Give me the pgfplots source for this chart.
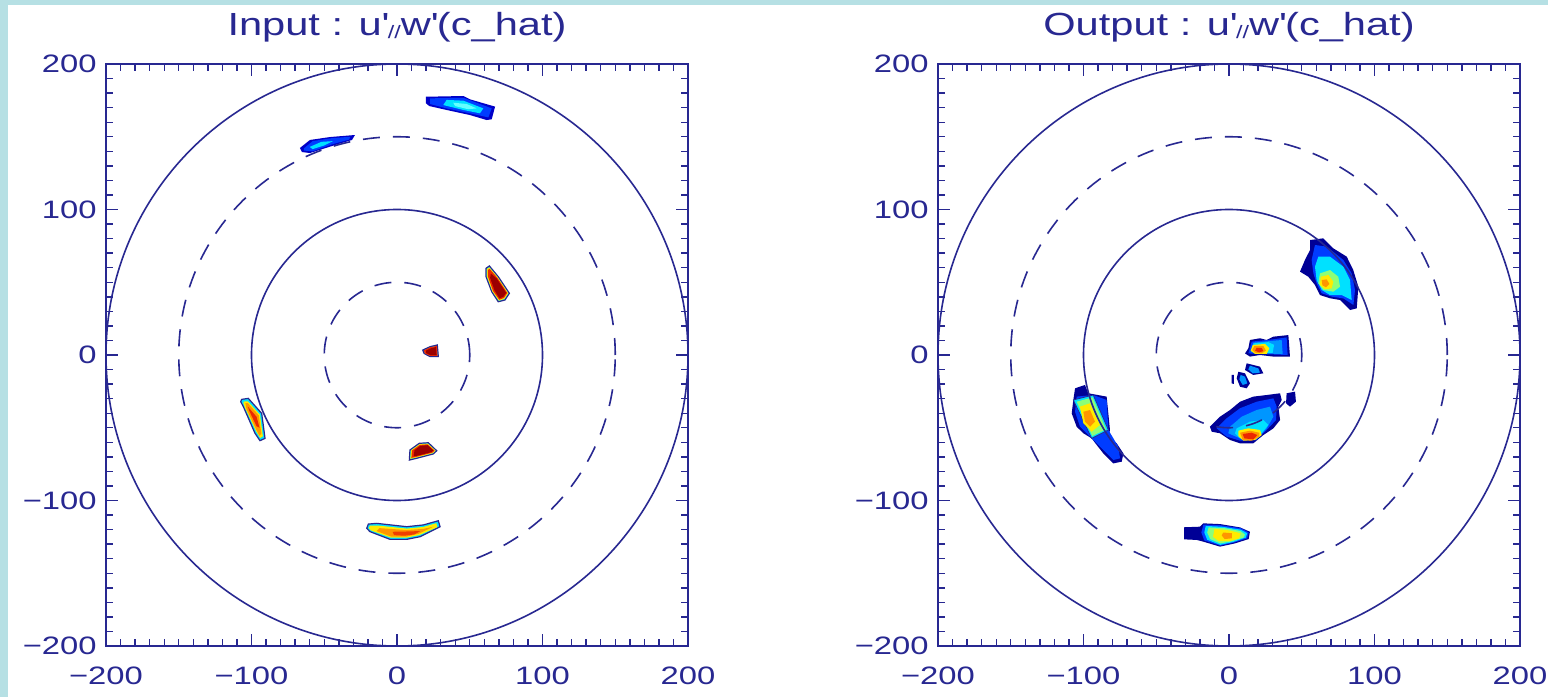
\documentclass[border=0pt]{standalone}
\usepackage{pgfplots}
\pgfplotsset{compat=1.18}
\usepackage{fontspec}
\setmainfont{Liberation Sans}
\newfontfamily\hf{Liberation Sans}[FakeStretch=1.3]
\definecolor{navyline}{RGB}{40,40,145}
\definecolor{bgblue}{RGB}{182,224,228}
\definecolor{j0}{RGB}{0,0,150}
\definecolor{j0b}{RGB}{0,0,200}
\definecolor{j1}{RGB}{0,60,255}
\definecolor{j2}{RGB}{0,150,255}
\definecolor{j3}{RGB}{0,225,255}
\definecolor{j3b}{RGB}{100,255,255}
\definecolor{j4}{RGB}{140,255,120}
\definecolor{j5}{RGB}{255,235,0}
\definecolor{j6}{RGB}{255,150,0}
\definecolor{j7}{RGB}{235,40,0}
\definecolor{j8}{RGB}{155,0,0}
\pgfplotsset{
  common/.style={
    anchor=south west, scale only axis, width=291pt, height=291pt,
    xmin=-200, xmax=200, ymin=-200, ymax=200,
    xtick={-200,-100,0,100,200}, ytick={-200,-100,0,100,200},
    xticklabels={−200,−100,0,100,200}, yticklabels={−200,−100,0,100,200},
    minor x tick num=9, minor y tick num=9,
    tick align=inside, major tick length=6pt, minor tick length=3.5pt,
    axis line style={navyline, line width=1.2pt},
    major tick style={navyline, line width=0.7pt},
    minor tick style={navyline, line width=0.7pt},
    xticklabel style={font=\hf\fontsize{12.6}{14}\selectfont, text=navyline, inner sep=0pt, anchor=north, yshift=-10.5pt},
    yticklabel style={font=\hf\fontsize{12.6}{14}\selectfont, text=navyline, inner sep=0pt, anchor=east, xshift=-4.5pt},
    title style={at={(0.5,1)}, anchor=base, yshift=8.5pt, inner sep=0pt, font=\hf\fontsize{16}{19}\selectfont, text=navyline},
    axis on top,
  },
  bl/.style={fill=#1, draw=none, forget plot},
  ol/.style={fill=#1, draw=navyline, line width=0.6pt, forget plot},
}
\newcommand{\circles}{%
  \draw[navyline, line width=0.8pt] (axis cs:0,0) circle [radius=200];
  \draw[navyline, line width=0.8pt] (axis cs:0,0) circle [radius=100];
  \draw[navyline, line width=0.8pt, dash pattern=on 8.5pt off 6.5pt] (axis cs:0,0) circle [radius=150];
  \draw[navyline, line width=0.8pt, dash pattern=on 8.5pt off 6.5pt] (axis cs:0,0) circle [radius=50];
}
\begin{document}
\begin{tikzpicture}
\path[use as bounding box] (0,0) rectangle (774pt,348.5pt);
\fill[bgblue] (0,0) rectangle (774pt,348.5pt);
\fill[white] (4pt,0) rectangle (774pt,346pt);

% ---------------- LEFT PANEL ----------------
\begin{axis}[common, at={(53pt,25.5pt)},
  title={Input : u\textquotesingle{\fontsize{9}{9}\selectfont\raisebox{-0.35ex}{//}}w\textquotesingle(c\_hat)}]
% top blob
\addplot[bl=j0b] coordinates {(19.9,177.5)(45.6,178.0)(50.2,175.7)(67.4,170.7)(65.1,162.0)(61.6,161.5)(50.2,164.9)(34.1,168.4)(22.2,171.1)(19.9,173.0)} -- cycle;
\addplot[bl=j1] coordinates {(22.7,176.4)(45.6,176.8)(65.1,169.5)(62.8,163.3)(50.2,166.1)(34.1,169.5)(22.7,172.5)} -- cycle;
\addplot[bl=j3] coordinates {(34.1,175.3)(45.6,174.8)(59.3,169.5)(57.0,166.1)(45.6,168.4)(31.8,171.8)} -- cycle;
\addplot[bl=j3b] coordinates {(38.7,173.4)(47.9,172.5)(54.8,169.5)(49.0,168.9)(39.9,171.1)} -- cycle;
% upper-left blob
\addplot[bl=j0b] coordinates {(-66.7,142.3)(-59.8,147.8)(-46.0,149.8)(-28.9,151.2)(-30.9,147.8)(-42.6,144.3)(-59.8,138.8)(-65.3,139.5)} -- cycle;
\addplot[bl=j1] coordinates {(-64,142)(-58,147)(-45,149)(-32,150)(-33,148)(-44,145)(-58,140)(-64,140.5)} -- cycle;
\addplot[bl=j3] coordinates {(-60,143)(-52,146.5)(-44,147)(-50,144)(-58,141.5)} -- cycle;
% right red blob
\addplot[ol=j3] coordinates {(61.2,59.6)(63.5,61.2)(69.6,53.8)(77.2,42.4)(74.2,37.8)(69.6,36.6)(65.1,43.5)(61.2,53.8)} -- cycle;
\addplot[bl=j5] coordinates {(61.8,59.2)(63.5,60.2)(69.2,53.5)(76.5,42.5)(73.8,38.5)(70,37.3)(65.5,43.8)(61.8,54)} -- cycle;
\addplot[bl=j7] coordinates {(62.5,58.5)(63.7,59.2)(69,53)(75.8,42.6)(73.5,39.2)(70.3,38)(66,44)(62.5,54)} -- cycle;
\addplot[bl=j8] coordinates {(64.5,56)(68.5,52.5)(75,42.8)(73,40)(70.5,39)(67,44.5)(64,53)} -- cycle;
% centre blob
\addplot[ol=j3] coordinates {(17.7,3.4)(22.7,5.7)(27.7,6.9)(28.4,-1.1)(22.7,-1.1)(18.6,1.1)} -- cycle;
\addplot[bl=j7] coordinates {(18.5,3.2)(22.7,5.3)(27.4,6.3)(27.9,-0.6)(22.7,-0.6)(19,1.2)} -- cycle;
\addplot[bl=j8] coordinates {(20,3)(23,4.5)(26.8,5.5)(27.2,0)(22.7,0)(20,1.4)} -- cycle;
% left blob
\addplot[ol=j3] coordinates {(-106.8,-30.5)(-102.2,-29.8)(-93.0,-40.1)(-90.7,-57.3)(-94.2,-58.9)(-97.6,-53.8)(-105.6,-35.5)(-107.4,-32.1)} -- cycle;
\addplot[bl=j5] coordinates {(-105.3,-32)(-102.6,-31.8)(-94.2,-41)(-92.2,-55.8)(-94.0,-57)(-96.8,-52.5)(-104.6,-36)(-105.6,-33)} -- cycle;
\addplot[bl=j6] coordinates {(-104.2,-33)(-102.6,-33)(-95,-41.5)(-93.2,-54)(-94.5,-55.5)(-96.6,-51.5)(-103.5,-37)} -- cycle;
\addplot[bl=j7] coordinates {(-102.5,-35.5)(-96.5,-42.5)(-94.5,-50)(-96.5,-49)(-101.5,-38.5)} -- cycle;
% small bottom red blob
\addplot[ol=j3] coordinates {(8.9,-65.3)(15.3,-60.7)(21.5,-60.3)(27.3,-65.8)(24.9,-68.0)(13.5,-71.0)(8.5,-72.2)} -- cycle;
\addplot[bl=j5] coordinates {(9.6,-65.5)(15.5,-61.3)(21.2,-60.9)(26.5,-65.7)(24.6,-67.5)(13.5,-70.4)(9.2,-71.4)} -- cycle;
\addplot[bl=j7] coordinates {(10.3,-65.6)(15.7,-61.8)(21,-61.4)(25.8,-65.7)(24.3,-67.1)(13.6,-69.9)(9.9,-70.7)} -- cycle;
\addplot[bl=j8] coordinates {(12,-65.5)(16,-62.5)(21,-62)(25,-65.6)(23.5,-66.8)(14,-69.2)(11.5,-69.5)} -- cycle;
% bottom band
\addplot[ol=j3] coordinates {(-19.7,-116.2)(-14.0,-115.7)(6.7,-118.0)(18.1,-116.8)(28.4,-113.9)(29.6,-118.0)(15.8,-124.9)(6.7,-126.7)(-4.8,-126.7)(-18.6,-121.4)(-20.8,-119.1)} -- cycle;
\addplot[bl=j5] coordinates {(-18.5,-117.3)(-13.5,-117.2)(6.7,-119.3)(18,-118.2)(27,-115.6)(27.8,-118.3)(15.3,-123.8)(6.7,-125.5)(-4.4,-125.5)(-17.8,-120.6)(-19.5,-119)} -- cycle;
\addplot[bl=j6] coordinates {(-12,-119)(6.7,-120.3)(18,-119.5)(25,-118)(15,-122.8)(6.7,-124.8)(-4,-124.8)(-14,-121)} -- cycle;
\addplot[bl=j7!80!j6] coordinates {(-3,-121.5)(6.7,-121.3)(16,-121)(12,-123.3)(5,-124.2)(-2,-123.8)} -- cycle;
\circles
\end{axis}

% ---------------- RIGHT PANEL ----------------
\begin{axis}[common, at={(469pt,25.5pt)},
  title={Output : u\textquotesingle{\fontsize{9}{9}\selectfont\raisebox{-0.35ex}{//}}w\textquotesingle(c\_hat)}]
% A: top-right blob
\addplot[bl=j0] coordinates {(55.7,79.0)(64.8,80.2)(71.7,73.3)(80.9,67.6)(85.4,58.4)(88.9,46.9)(87.8,32.1)(83.2,30.9)(76.3,37.8)(69.4,39.0)(62.5,41.2)(59.1,48.1)(54.5,53.8)(48.8,57.3)(52.2,65.3)(55.7,72.2)} -- cycle;
\addplot[bl=j1] coordinates {(59.1,75.6)(67.1,74.5)(78.6,65.3)(84.3,56.1)(86.6,44.7)(85.5,34.4)(78.6,38.9)(70.6,40.1)(63.7,42.4)(60.2,49.3)(58.0,56.1)(56.8,65.3)} -- cycle;
\addplot[bl=j3] coordinates {(61.4,67.6)(69.4,67.6)(78.6,60.7)(83.2,51.5)(84.3,37.8)(77.4,41.2)(69.4,41.2)(63.7,44.7)(60.2,51.5)(59.1,60.7)} -- cycle;
\addplot[bl=j4] coordinates {(62.5,56.1)(69.4,58.4)(75.1,53.8)(76.3,46.9)(71.7,43.5)(64.8,44.7)(61.4,49.3)} -- cycle;
\addplot[bl=j5] coordinates {(63.0,53.8)(68.3,55.0)(71.7,50.4)(70.6,45.8)(66.0,45.2)(62.5,48.1)} -- cycle;
\addplot[bl=j6] coordinates {(63.7,51.5)(67.1,52.0)(69.0,48.8)(66.7,46.5)(64.2,47.9)} -- cycle;
% B: centre blob
\addplot[bl=j0] coordinates {(14.4,10.3)(21.3,11.5)(25.9,10.3)(30.5,12.6)(40.8,13.7)(41.9,-1.1)(30.5,-1.1)(21.3,0)(14.4,-1.1)(11.0,1.1)(13.3,4.6)} -- cycle;
\addplot[bl=j1] coordinates {(15.6,9.2)(30.5,10.8)(39.6,12.1)(40.3,0)(21.3,0.7)(13.3,1.1)} -- cycle;
\addplot[bl=j2] coordinates {(16.7,8.5)(30.5,9.8)(36.2,10.3)(36.9,0.7)(21.3,1.1)(14.9,2.1)} -- cycle;
\addplot[bl=j3] coordinates {(17,8)(27,8.8)(31,7)(30,1.5)(20,1.3)(15.5,2.5)} -- cycle;
\addplot[bl=j5] coordinates {(16.3,6.9)(24.7,7.6)(27.7,4.6)(25.9,0.7)(17.9,0.7)(14.9,3.0)} -- cycle;
\addplot[bl=j6] coordinates {(17.4,6.2)(23.6,6.2)(25.4,3.0)(22.5,1.1)(17.9,1.6)(16.0,3.4)} -- cycle;
\addplot[bl=j7] coordinates {(19.0,5.0)(22.5,4.8)(23.6,2.7)(20.8,1.8)(17.9,3.0)} -- cycle;
% C: small blobs
\addplot[bl=j0] coordinates {(12.1,-5.7)(21.3,-8.0)(23.6,-12.6)(16.7,-13.7)(11.0,-10.3)} -- cycle;
\addplot[bl=j2] coordinates {(14.4,-7.3)(20.2,-9.2)(21.3,-12.1)(16.3,-12.6)(13.3,-9.9)} -- cycle;
\addplot[bl=j0] coordinates {(6.4,-11.5)(11.0,-12.6)(14.4,-19.5)(12.1,-22.9)(7.6,-21.8)(5.3,-16.0)} -- cycle;
\addplot[bl=j2] coordinates {(8.0,-13.7)(11.0,-14.9)(12.6,-19.5)(9.4,-20.6)(7.1,-16.7)} -- cycle;
\addplot[bl=j0] coordinates {(1.8,-13.7)(3.4,-13.7)(3.4,-19.9)(1.8,-19.5)} -- cycle;
% D: bottom cluster
\addplot[bl=j0] coordinates {(-13.1,-49.3)(-6.2,-42.4)(0.7,-37.8)(7.6,-32.1)(16.7,-28.6)(25.9,-27.5)(35.1,-26.3)(36.2,-30.9)(33.9,-35.5)(35.1,-44.7)(30.5,-50.4)(23.6,-55.0)(16.7,-60.7)(7.6,-60.7)(0.7,-58.4)(-6.2,-53.8)(-11.9,-52.7)} -- cycle;
\addplot[bl=j0] coordinates {(39.6,-26.3)(45.4,-25.2)(46.0,-32.1)(41.9,-35.5)(39.2,-33.2)} -- cycle;
\addplot[bl=j1] coordinates {(-8.5,-50.4)(-1.6,-43.5)(7.6,-36.6)(19.0,-32.1)(30.5,-29.8)(32.8,-35.5)(32.3,-44.7)(25.9,-51.5)(19.0,-58.4)(7.6,-58.9)(-1.6,-56.1)} -- cycle;
\addplot[bl=j2] coordinates {(0.7,-49.3)(8.7,-42.4)(19.0,-37.8)(28.2,-35.5)(30.5,-42.4)(25.9,-50.4)(19.0,-57.3)(7.6,-57.3)(-0.5,-53.8)} -- cycle;
\addplot[bl=j3] coordinates {(5.3,-50.4)(14.4,-45.8)(23.6,-44.7)(27.0,-48.1)(22.5,-53.8)(16.7,-57.3)(7.6,-57.3)(4.1,-53.8)} -- cycle;
\addplot[bl=j5] coordinates {(6.4,-52.0)(13.3,-50.4)(21.3,-51.5)(22.5,-55.0)(17.9,-58.4)(9.8,-58.9)(6.4,-55.7)} -- cycle;
\addplot[bl=j6] coordinates {(7.6,-53.4)(14.4,-52.0)(20.8,-53.4)(20.8,-56.1)(15.6,-58.9)(9.4,-58.4)} -- cycle;
\addplot[bl=j7] coordinates {(9.4,-54.3)(15.6,-53.4)(19.5,-55.0)(16.7,-58.0)(10.5,-57.3)} -- cycle;
% E: left blob
\addplot[bl=j0] coordinates {(-105.8,-22.9)(-99.0,-20.6)(-96.7,-26.3)(-84.1,-28.6)(-81.8,-51.5)(-82.9,-56.1)(-77.2,-60.7)(-72.6,-67.6)(-73.7,-73.3)(-79.5,-74.5)(-86.4,-67.6)(-90.9,-61.9)(-94.4,-57.3)(-100.1,-53.8)(-104.7,-49.3)(-108.1,-40.1)(-107.0,-30.9)} -- cycle;
\addplot[bl=j1] coordinates {(-104.7,-28.6)(-93.3,-27.5)(-84.1,-30.9)(-82.9,-51.5)(-76.1,-63.0)(-74.9,-71.0)(-79.5,-72.2)(-88.7,-63.0)(-94.4,-57.3)(-102.4,-49.3)(-105.8,-39.0)} -- cycle;
\addplot[bl=j3, draw=navyline, line width=0.4pt] coordinates {(-107.0,-30.9)(-93.3,-27.5)(-82.9,-51.5)(-94.4,-57.3)} -- cycle;
\addplot[bl=j4] coordinates {(-104.7,-32.1)(-93.7,-29.1)(-84.5,-51.1)(-94.0,-55.7)} -- cycle;
\addplot[bl=j5] coordinates {(-102.4,-35.5)(-95.5,-33.2)(-88.7,-48.1)(-94.4,-52.7)(-100.1,-46.9)} -- cycle;
\addplot[bl=j6] coordinates {(-100.1,-39.0)(-95.5,-37.8)(-92.1,-45.8)(-95.5,-49.3)(-99.0,-45.8)} -- cycle;
% F: bottom blob
\addplot[bl=j0] coordinates {(-30.9,-118.4)(-19.9,-118.0)(-17.6,-115.7)(-6.2,-116.2)(7.6,-118.5)(14.4,-121.5)(13.5,-126.5)(4,-129.5)(-6.2,-131.7)(-17.6,-128.3)(-22.2,-127.1)(-30.9,-126.7)} -- cycle;
\addplot[bl=j1] coordinates {(-17.6,-116.5)(-6,-117)(8,-119)(13.5,-122)(12.5,-126)(3,-129)(-6,-131)(-17,-127.5)(-19,-122)} -- cycle;
\addplot[bl=j3] coordinates {(-16,-117.5)(-5,-118)(8,-120)(12.5,-122.5)(11.5,-125.5)(3,-128.5)(-6,-130.5)(-15,-127)(-17,-122)} -- cycle;
\addplot[bl=j4] coordinates {(-14,-118.5)(-3,-119)(8,-121)(11,-123.5)(10,-125.5)(2,-128)(-6,-129.5)(-13,-126.5)(-15,-122)} -- cycle;
\addplot[bl=j5] coordinates {(-10,-119.5)(0,-120.5)(8,-122.5)(7,-126)(0,-128)(-7,-128)(-11,-125)} -- cycle;
\addplot[bl=j6] coordinates {(-4,-122)(2,-122.5)(2,-126)(-3,-126.5)(-5,-124)} -- cycle;
\circles
\end{axis}
\end{tikzpicture}
\end{document}
